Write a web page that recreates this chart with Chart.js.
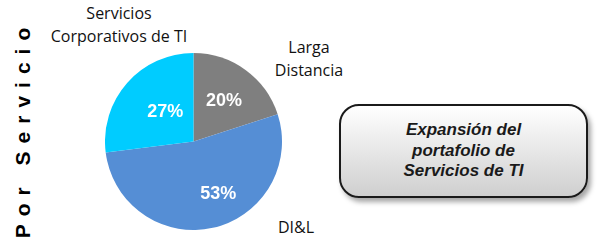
<!DOCTYPE html>
<html lang="es">
<head>
    <meta charset="UTF-8">
    <title>Por Servicio</title>
    <script src="https://cdn.jsdelivr.net/npm/chart.js@4.4.1/dist/chart.umd.min.js"></script>
    <style>
        html, body { margin: 0; padding: 0; background: #fff; }
        #wrap { position: relative; width: 598px; height: 243px; overflow: hidden; }
        #pieBox { position: absolute; left: 105px; top: 53px; width: 177px; height: 177px; }
        .cat { position: absolute; font-family: "Open Sans", sans-serif; font-size: 16px; color: #111;
               line-height: 23px; text-align: center; white-space: nowrap; transform: translateX(-50%); }
        #side { position: absolute; left: 23px; top: 133px; white-space: nowrap;
                font: bold 21px "Liberation Sans", Arial, sans-serif; line-height: 24px;
                letter-spacing: 8px; color: #000; padding-left: 8px;
                transform: translate(-50%, -50%) rotate(-90deg); }
        #note { position: absolute; left: 339px; top: 104px; width: 245px; height: 90px;
                border: 2px solid #1a1a1a; border-radius: 20px;
                background: linear-gradient(#ffffff, #cfcfcf);
                box-shadow: 3px 4px 5px rgba(0,0,0,0.35);
                display: flex; align-items: center; justify-content: center; text-align: center;
                font: italic bold 17px "Liberation Sans", Arial, sans-serif; line-height: 20.5px; color: #1a1a1a; }
    </style>
</head>
<body>
<div id="wrap">
    <div id="side">Por Servicio</div>
    <div class="cat" style="left:119px; top:2px;">Servicios<br>Corporativos de TI</div>
    <div class="cat" style="left:309px; top:36px;">Larga<br>Distancia</div>
    <div class="cat" style="left:296px; top:216px;">DI&amp;L</div>
    <div id="pieBox"><canvas id="myChart"></canvas></div>
    <div id="note">Expansión del<br>portafolio de<br>Servicios de TI</div>
</div>
<script>
    const categories = ['Larga Distancia', 'DI&L', 'Servicios Corporativos de TI'];
    const shares     = [20, 53, 27];
    const colors     = ['#7f7f7f', '#558ed5', '#00ccff'];

    // where each percentage sits inside its slice (fraction of radius, angle nudge in degrees)
    const labelSpot  = [{r: 0.585, turn: 0}, {r: 0.65, turn: -13}, {r: 0.47, turn: 6}];

    const pctLabels = {
        id: 'pctLabels',
        afterDatasetsDraw(chart) {
            const ctx = chart.ctx;
            const meta = chart.getDatasetMeta(0);
            ctx.save();
            ctx.font = 'bold 18px "Liberation Sans", Arial, sans-serif';
            ctx.fillStyle = '#fff';
            ctx.textAlign = 'center';
            ctx.textBaseline = 'middle';
            meta.data.forEach((arc, i) => {
                const p = arc.getProps(['x', 'y', 'startAngle', 'endAngle', 'outerRadius'], true);
                const mid = (p.startAngle + p.endAngle) / 2 + labelSpot[i].turn * Math.PI / 180;
                const rr = p.outerRadius * labelSpot[i].r;
                ctx.fillText(shares[i] + '%', p.x + Math.cos(mid) * rr, p.y + Math.sin(mid) * rr + 1);
            });
            ctx.restore();
        }
    };

    const ctx = document.getElementById('myChart').getContext('2d');
    const myChart = new Chart(ctx, {
        type: 'pie',
        data: {
            labels: categories,
            datasets: [{
                data: shares,
                backgroundColor: colors,
                borderWidth: 0
            }]
        },
        options: {
            responsive: true,
            maintainAspectRatio: false,
            animation: false,
            layout: { padding: 0 },
            plugins: {
                legend: { display: false },
                tooltip: { enabled: false }
            }
        },
        plugins: [pctLabels]
    });
</script>
</body>
</html>
